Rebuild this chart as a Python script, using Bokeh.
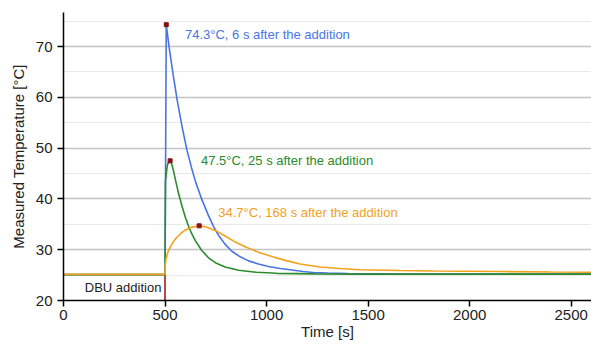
from bokeh.plotting import figure
from bokeh.models import SingleIntervalTicker, Range1d
from bokeh.core.properties import value
from bokeh.embed import file_html
from bokeh.resources import INLINE

# ---------------- data ----------------
blue_t = [0, 500, 506, 520, 540, 560, 585, 608, 630, 650, 682, 714, 740, 764, 795, 829,
          870, 911, 960, 1009, 1067, 1124, 1180, 1230, 1300, 1400, 1600, 2000, 2600]
blue_T = [25.1, 25.1, 74.3, 69.9, 64.4, 59.4, 54.0, 49.6, 46.2, 43.4, 39.8, 36.7, 34.5,
          32.8, 31.1, 29.7, 28.6, 27.8, 27.2, 26.7, 26.3, 26.0, 25.7, 25.5, 25.4, 25.3,
          25.25, 25.2, 25.2]

green_t = [0, 500, 502, 511, 518, 525, 532, 540, 551, 567, 584, 600, 616, 632, 649, 680,
           714, 750, 796, 862, 950, 1050, 1239, 1500, 2000, 2600]
green_T = [25.1, 25.1, 43.5, 46.6, 47.3, 47.5, 47.0, 45.8, 43.8, 41.0, 38.5, 36.4, 34.6,
           33.1, 31.8, 29.9, 28.4, 27.4, 26.6, 25.95, 25.55, 25.35, 25.25, 25.2, 25.2, 25.2]

orange_t = [0, 500, 501, 505, 512, 526, 540, 555, 575, 600, 630, 668, 700, 747, 800, 846,
            900, 960, 1030, 1091, 1165, 1263, 1360, 1460, 1657, 1820, 2148, 2400, 2600]
orange_T = [25.15, 25.15, 27.0, 28.2, 29.3, 30.6, 31.5, 32.3, 33.1, 33.9, 34.4, 34.7,
            34.5, 33.8, 32.6, 31.5, 30.5, 29.5, 28.6, 27.9, 27.2, 26.6, 26.3, 26.05, 25.9,
            25.8, 25.7, 25.6, 25.55]

peak_t = [506, 525, 668]
peak_T = [74.3, 47.5, 34.7]
addition_t = 500
baseline_T = 25.1

x_ticks_interval = 500
y_ticks_interval = 10

# ---------------- styles ----------------
FONT = "Liberation Sans"
colors = ["#4a74e6", "#2b8a2b", "#f2a11c"]
label_pos_t = [598, 677, 762]
label_pos_T = [72.4, 47.5, 37.4]

p = figure(width=591, height=347, output_backend="svg", toolbar_location=None,
           x_range=Range1d(0, 2600), y_range=Range1d(20, 76.7),
           min_border_left=63, min_border_right=0, min_border_top=12,
           min_border_bottom=47)
p.outline_line_color = None
p.background_fill_color = "white"
p.border_fill_color = "white"

p.xgrid.visible = False
p.yaxis.ticker = SingleIntervalTicker(interval=y_ticks_interval, num_minor_ticks=2)
p.xaxis.ticker = SingleIntervalTicker(interval=x_ticks_interval, num_minor_ticks=0)
p.ygrid.grid_line_color = "#c4c4c4"
p.ygrid.grid_line_width = 1.5
p.ygrid.minor_grid_line_color = "#e9e9e9"
p.ygrid.minor_grid_line_width = 1

for ax in (p.xaxis[0], p.yaxis[0]):
    ax.axis_line_color = "black"
    ax.axis_line_width = 1.5
    ax.major_tick_line_color = "black"
    ax.major_tick_line_width = 1.5
    ax.major_tick_out = 6
    ax.major_tick_in = 0
    ax.minor_tick_line_color = None
    ax.major_label_text_font = FONT
    ax.major_label_text_font_size = "15px"
    ax.major_label_text_color = "#222222"
    ax.axis_label_text_font = FONT
    ax.axis_label_text_font_size = "15px"
    ax.axis_label_text_font_style = "normal"
    ax.axis_label_text_color = "#222222"

p.xaxis.axis_label = "Time [s]"
p.yaxis.axis_label = "Measured Temperature [°C]"
p.xaxis.major_label_standoff = 3
p.xaxis.axis_label_standoff = 0
p.yaxis.major_label_standoff = 5
p.yaxis.axis_label_standoff = 6

# DBU addition marker line
p.segment(x0=[addition_t], y0=[20], x1=[addition_t], y1=[baseline_T],
          line_color="#b04848", line_width=2)
p.text(x=[addition_t - 18], y=[22.6], text=["DBU addition"], text_font=value(FONT),
       text_font_size="13px", text_align="right", text_baseline="middle",
       text_color="#222222")

series = [(blue_t, blue_T), (green_t, green_T), (orange_t, orange_T)]
for (t, T), c in zip(series, colors):
    p.line(t, T, line_color=c, line_width=1.6)

p.scatter(peak_t, peak_T, marker="square", size=4, color="#8b1010")

labels = [f"{T}°C, {t - addition_t} s after the addition" for t, T in zip(peak_t, peak_T)]
for lt, lT, txt, c in zip(label_pos_t, label_pos_T, labels, colors):
    p.text(x=[lt], y=[lT], text=[txt], text_font=value(FONT), text_font_size="13px",
           text_align="left", text_baseline="middle", text_color=c)

open("out.html", "w").write(file_html(p, INLINE))
